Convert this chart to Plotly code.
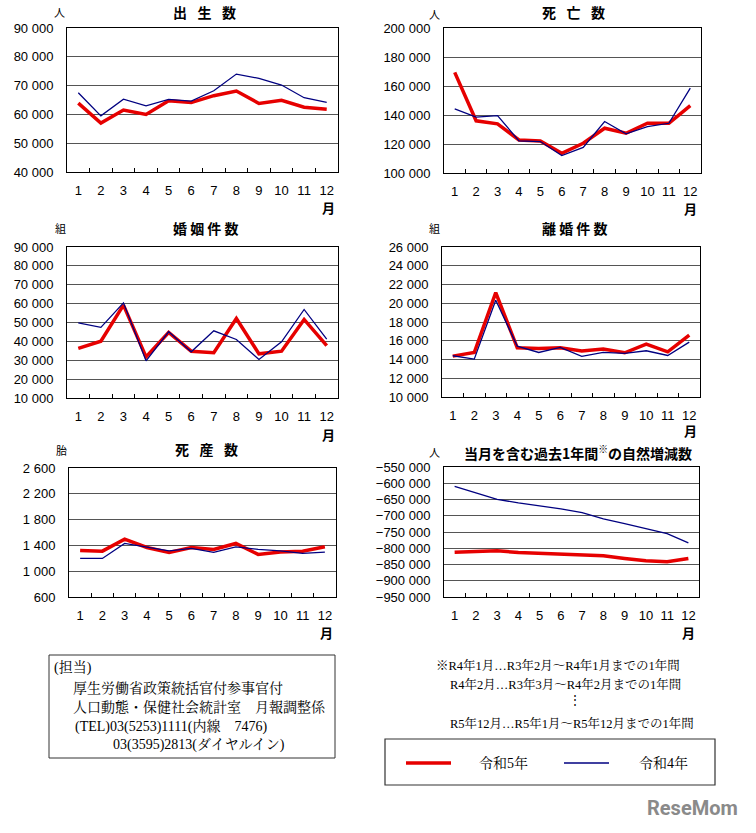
import plotly.graph_objects as go

W, H = 756, 833
months = [str(m) for m in range(1, 13)]

# 出生数
births_r5 = [63900, 57000, 61500, 60000, 64700, 64100, 66500, 68100, 63800, 64900, 62500, 61800]
births_r4 = [67500, 59500, 65300, 63000, 65200, 64600, 68200, 74000, 72500, 70200, 65800, 64200]
# 死亡数
deaths_r5 = [169400, 136000, 133900, 122800, 122100, 113600, 120500, 130900, 127400, 134300, 134300, 146500]
deaths_r4 = [144200, 138500, 139600, 122100, 121700, 112000, 117700, 135500, 127000, 132000, 134300, 158500]
# 婚姻件数
marr_r5 = [36300, 40100, 59200, 31800, 44700, 34800, 34000, 52100, 33400, 34800, 51600, 37700]
marr_r4 = [49800, 47400, 60400, 29700, 45100, 34500, 45600, 41000, 30400, 39800, 56900, 41200]
# 離婚件数
div_r5 = [14360, 14750, 21140, 15250, 15180, 15250, 14900, 15110, 14720, 15640, 14820, 16600]
div_r4 = [14400, 14040, 20320, 15430, 14750, 15290, 14330, 14750, 14650, 14930, 14430, 15850]
# 死産数
still_r5 = [1322, 1311, 1497, 1368, 1291, 1368, 1337, 1430, 1260, 1296, 1311, 1378]
still_r4 = [1198, 1198, 1430, 1368, 1316, 1353, 1291, 1378, 1337, 1316, 1275, 1296]
# 自然増減数（過去1年間）
nat_r5 = [-812000, -810900, -807900, -813000, -815000, -817100, -821200, -823200, -831400, -838500, -841600, -831400]
nat_r4 = [-609500, -629600, -649400, -660600, -668800, -679000, -690300, -709700, -724000, -738300, -754700, -783300]

titles = ["出\u2002\u2005生\u2002\u2005数", "死\u2002\u2005亡\u2002\u2005数", "婚 姻 件 数", "離 婚 件 数",
          "死\u2002\u2005産\u2002\u2005数", "当月を含む過去1年間<sup>※</sup>の自然増減数"]
units = ["人", "人", "組", "組", "胎", "人"]
yranges = [(40000, 90000, 10000), (100000, 200000, 20000), (10000, 90000, 10000),
           (10000, 26000, 2000), (600, 2600, 400), (-950000, -550000, 50000)]
series = [(births_r5, births_r4), (deaths_r5, deaths_r4), (marr_r5, marr_r4),
          (div_r5, div_r4), (still_r5, still_r4), (nat_r5, nat_r4)]

# plot-area pixel boxes (left, right, top, bottom)
boxes = [(67, 338, 28, 172), (444, 701, 28, 173), (67, 338, 247, 398),
         (442, 700, 247, 397), (69, 336, 468, 597), (444, 699, 467, 597)]
title_pos = [(204, 12), (573, 12), (206, 228), (575, 228), (206, 449), (578, 452)]
unit_pos = [(59, 12), (435, 14), (60, 228), (435, 228), (61, 450), (435, 452)]
month_pos = [(328, 208), (690, 209), (328, 434), (690, 430), (326, 632), (688, 632)]

RED = "#e60000"
BLUE = "#000080"
FONT = "Liberation Sans, Arial, sans-serif"
CJK = "Noto Sans CJK JP, sans-serif"
SERIF = "Liberation Serif, Noto Serif CJK JP, Noto Sans CJK JP, serif"

fig = go.Figure()
annotations = []
shapes = []

def px(x):
    return x / W

def py(y):
    return 1 - y / H

for i, ((r5, r4), (y0, y1, dy), box) in enumerate(zip(series, yranges, boxes)):
    n = "" if i == 0 else str(i + 1)
    xa, ya = "x" + n, "y" + n
    fig.add_trace(go.Scatter(x=months, y=r5, mode="lines", line=dict(color=RED, width=3.5),
                             name="令和5年", xaxis=xa, yaxis=ya, showlegend=False))
    fig.add_trace(go.Scatter(x=months, y=r4, mode="lines", line=dict(color=BLUE, width=1.3),
                             name="令和4年", xaxis=xa, yaxis=ya, showlegend=False))
    l, r, t, b = box
    fig.update_layout(**{
        "xaxis" + n: dict(domain=[px(l), px(r)], anchor=ya, type="category",
                          range=[-0.5, len(months) - 0.5],
                          tickson="boundaries", ticks="inside", ticklen=4, tickcolor="black",
                          showline=True, linecolor="black", linewidth=1, mirror=True,
                          showgrid=False, tickangle=0, automargin=False,
                          tickfont=dict(family=FONT, size=13, color="black"),
                          ticklabelstandoff=6, fixedrange=True),
        "yaxis" + n: dict(domain=[py(b), py(t)], anchor=xa, range=[y0, y1], dtick=dy, tick0=y0,
                          tickformat=",d", showline=True, linecolor="black", linewidth=1,
                          mirror=True, showgrid=True, gridcolor="#555555", gridwidth=1,
                          zeroline=False, ticks="", ticklabelstandoff=10, automargin=False,
                          tickfont=dict(family=FONT, size=13, color="black"), fixedrange=True),
    })
    tx, ty = title_pos[i]
    annotations.append(dict(text="<b>" + titles[i] + "</b>", x=px(tx), y=py(ty), xref="paper",
                            yref="paper", showarrow=False, xanchor="center", yanchor="middle",
                            font=dict(family=CJK, size=14, color="black")))
    ux, uy = unit_pos[i]
    annotations.append(dict(text=units[i], x=px(ux), y=py(uy), xref="paper", yref="paper",
                            showarrow=False, xanchor="center", yanchor="middle",
                            font=dict(family=CJK, size=11, color="black")))
    mx, my = month_pos[i]
    annotations.append(dict(text="<b>月</b>", x=px(mx), y=py(my), xref="paper", yref="paper",
                            showarrow=False, xanchor="center", yanchor="middle",
                            font=dict(family=CJK, size=13, color="black")))

# contact box
shapes.append(dict(type="rect", xref="paper", yref="paper", x0=px(49), x1=px(335),
                   y0=py(758), y1=py(655), line=dict(color="#333333", width=1)))
contact = [("(担当)", 52, 667), ("厚生労働省政策統括官付参事官付", 71, 688),
           ("人口動態・保健社会統計室　月報調整係", 71, 707),
           ("(TEL)03(5253)1111(内線　7476)", 73, 726),
           ("03(3595)2813(ダイヤルイン)", 111, 745)]
for txt, x, y in contact:
    annotations.append(dict(text=txt, x=px(x), y=py(y), xref="paper", yref="paper",
                            showarrow=False, xanchor="left", yanchor="middle",
                            font=dict(family=SERIF, size=14, color="black")))

notes = [("※R4年1月…R3年2月～R4年1月までの1年間", 434, 665),
         ("R4年2月…R3年3月～R4年2月までの1年間", 448, 684),
         ("R5年12月…R5年1月～R5年12月までの1年間", 448, 723)]
for txt, x, y in notes:
    annotations.append(dict(text=txt, x=px(x), y=py(y), xref="paper", yref="paper",
                            showarrow=False, xanchor="left", yanchor="middle",
                            font=dict(family=SERIF, size=12.5, color="black")))
annotations.append(dict(text="⋮", x=px(575), y=py(700), xref="paper", yref="paper",
                        showarrow=False, xanchor="center", yanchor="middle",
                        font=dict(family=SERIF, size=12, color="black")))

# legend box
shapes.append(dict(type="rect", xref="paper", yref="paper", x0=px(385), x1=px(715),
                   y0=py(785), y1=py(739), line=dict(color="#333333", width=1.2)))
shapes.append(dict(type="line", xref="paper", yref="paper", x0=px(406), x1=px(451),
                   y0=py(763), y1=py(763), line=dict(color=RED, width=3.5)))
shapes.append(dict(type="line", xref="paper", yref="paper", x0=px(564), x1=px(609),
                   y0=py(763), y1=py(763), line=dict(color=BLUE, width=1.3)))
annotations.append(dict(text="令和5年", x=px(477), y=py(763), xref="paper", yref="paper",
                        showarrow=False, xanchor="left", yanchor="middle",
                        font=dict(family=SERIF, size=14, color="black")))
annotations.append(dict(text="令和4年", x=px(637), y=py(763), xref="paper", yref="paper",
                        showarrow=False, xanchor="left", yanchor="middle",
                        font=dict(family=SERIF, size=14, color="black")))
# watermark
annotations.append(dict(text="<b>ReseMom</b>", x=px(740), y=py(808), xref="paper", yref="paper",
                        showarrow=False, xanchor="right", yanchor="middle",
                        font=dict(family="Liberation Sans Narrow, Roboto, sans-serif", size=20,
                                  color="#8a8a8a")))

fig.update_layout(width=W, height=H, margin=dict(l=0, r=0, t=0, b=0, autoexpand=False),
                  paper_bgcolor="white", plot_bgcolor="white", separators=". ",
                  showlegend=False, annotations=annotations, shapes=shapes)

fig.write_html("out.html", config={"displayModeBar": False},
               post_script="document.body.style.margin='0';")
